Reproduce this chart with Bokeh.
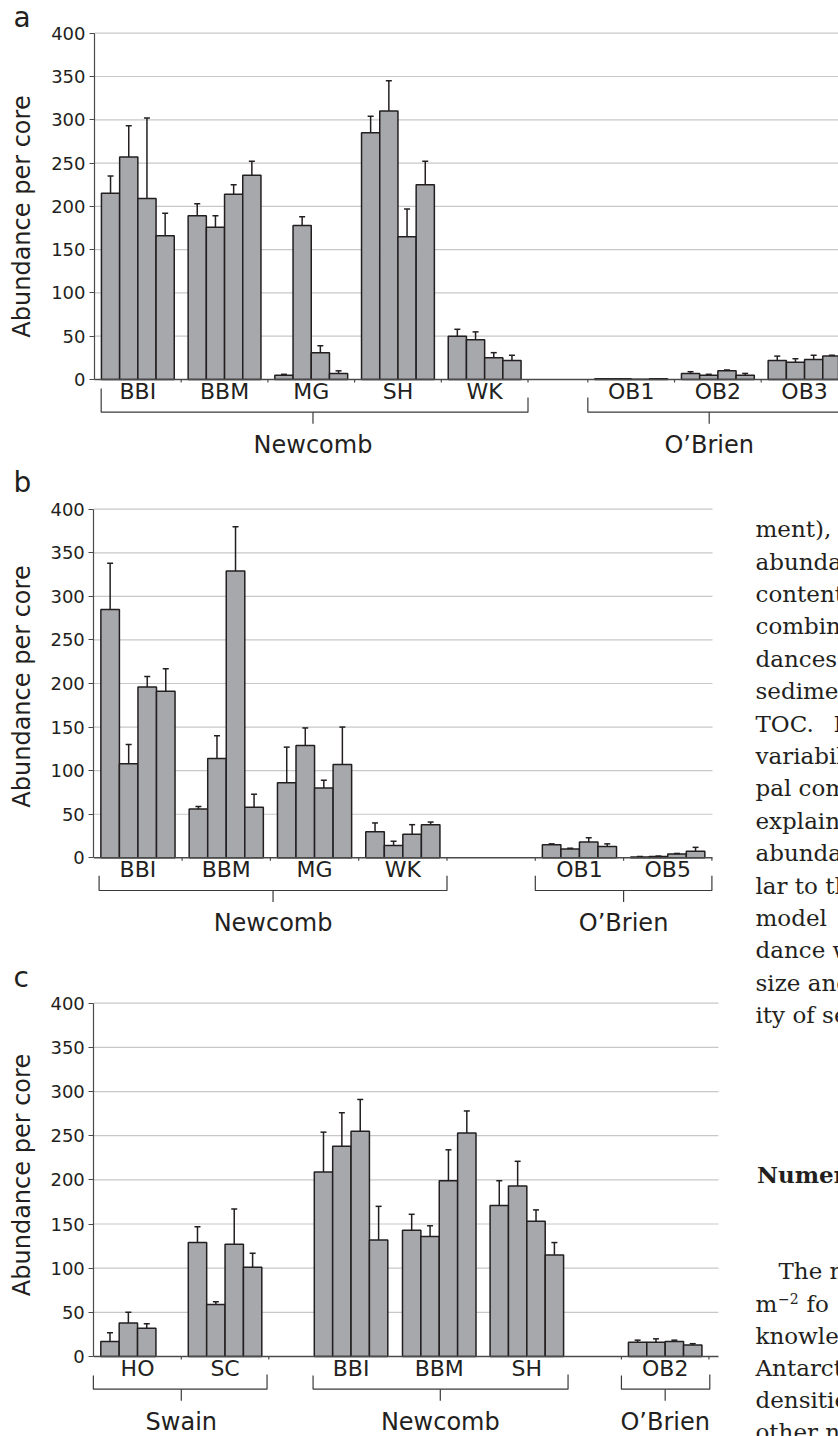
import math
from bokeh.plotting import figure
from bokeh.layouts import column
from bokeh.models import Range1d, FixedTicker
from bokeh.embed import file_html
from bokeh.resources import INLINE
from bokeh.core.properties import value

nan = float("nan")

# ---------------- data ----------------
y_ticks = [0, 50, 100, 150, 200, 250, 300, 350, 400]
y_label = "Abundance per core"

# panel a
a_sites = ["BBI", "BBM", "MG", "SH", "WK", "OB1", "OB2", "OB3"]
a_means = [[215, 257, 209, 166], [189, 176, 214, 236], [5, 178, 31, 7],
           [285, 310, 165, 225], [50, 46, 25, 22],
           [1, 1, 0.3, 1], [7, 5, 10, 5], [22, 20, 23, 27]]
a_se = [[20, 36, 93, 26], [14, 13, 11, 16], [1, 10, 8, 3],
        [19, 35, 32, 27], [8, 9, 6, 6],
        [0, 0, 0, 0], [2, 1, 1, 2], [5, 4, 5, 1]]
a_regions = ["Newcomb", "O\u2019Brien"]

# panel b
b_sites = ["BBI", "BBM", "MG", "WK", "OB1", "OB5"]
b_means = [[285, 108, 196, 191], [56, 114, 329, 58], [86, 129, 80, 107],
           [30, 14, 27, 38], [15, 10, 18, 13], [1, 1.5, 4.5, 7.5]]
b_se = [[53, 22, 12, 26], [3, 26, 51, 15], [41, 20, 9, 43],
        [10, 5, 11, 3], [1, 1, 5, 3], [0.5, 0.5, 0.5, 4.5]]
b_regions = ["Newcomb", "O\u2019Brien"]

# panel c
c_sites = ["HO", "SC", "BBI", "BBM", "SH", "OB2"]
c_means = [[17, 38, 32, nan], [129, 59, 127, 101], [209, 238, 255, 132],
           [143, 136, 199, 253], [171, 193, 153, 115], [16, 16, 17, 13]]
c_se = [[10, 12, 5, nan], [18, 3, 40, 16], [45, 38, 36, 38],
        [18, 12, 35, 25], [28, 28, 13, 14], [2.5, 4, 1.5, 1.5]]
c_regions = ["Swain", "Newcomb", "O\u2019Brien"]

# running text of the page beside panels b and c (cut off at the page edge)
side_b = ["ment),", "abunda", "content", "combin", "dances", "sedime", "TOC.",
          "variabil", "pal com", "explain", "abunda", "lar to th", "model"]
side_c = ["dance w", "size and", "ity of se"]
side_c2 = ["The n", "m", "knowle", "Antarct", "densitie", "other n"]

# ---------------- styles / layout ----------------
FONT = "DejaVu Sans"
SERIF = "DejaVu Serif"
INK = "#231f20"
BAR = "#a7a8ac"
GRID = "#c8c8c8"
AXIS = "#4a4a4a"
BW = 0.21
BASE_FIX = 0.38   # em, to put the alphabetic baseline where it is wanted


def build(letter, letter_base, label_mid, sites, means, ses, slots, xticks,
          brackets, regions, fig_top, fig_h, x0, W, axis_end_px, zero_px, top_px):
    scale = (zero_px - top_px) / 400.0

    def ypx(py):              # page pixel y -> data y
        return (zero_px - py) / scale

    def xpx(px):              # page pixel x -> data x
        return (px - x0) / W

    def below(d):
        return -d / scale

    def tb(py, size):         # baseline position for text of a given size
        return ypx(py - BASE_FIX * size)

    x_end = xpx(axis_end_px)
    p = figure(width=838, height=fig_h,
               x_range=Range1d(xpx(0), xpx(838)),
               y_range=Range1d(ypx(fig_top + fig_h), ypx(fig_top)),
               x_axis_location=None, toolbar_location=None,
               output_backend="svg", title=None,
               min_border_left=0, min_border_right=0,
               min_border_top=0, min_border_bottom=0,
               background_fill_color="white", border_fill_color="white",
               outline_line_color=None)
    p.grid.visible = False

    ax = p.yaxis[0]
    ax.fixed_location = 0
    ax.ticker = FixedTicker(ticks=y_ticks)
    ax.bounds = (0, 400)
    ax.axis_line_color = AXIS
    ax.axis_line_width = 1.2
    ax.major_tick_line_color = AXIS
    ax.major_tick_line_width = 1.2
    ax.major_tick_out = 5
    ax.major_tick_in = 0
    ax.minor_tick_out = 0
    ax.minor_tick_in = 0
    ax.major_label_standoff = 4
    ax.major_label_text_font = FONT
    ax.major_label_text_font_size = "18px"
    ax.major_label_text_color = INK

    # horizontal grid lines up to the end of the x axis
    gt = y_ticks[1:]
    p.segment(x0=[0] * len(gt), y0=gt, x1=[x_end] * len(gt), y1=gt,
              line_color=GRID, line_width=1.2)

    xs, tops, ex, ey0, ey1 = [], [], [], [], []
    for g, (ml, sl) in enumerate(zip(means, ses)):
        for i, (m, s) in enumerate(zip(ml, sl)):
            if isinstance(m, float) and math.isnan(m):
                continue
            xc = slots[g] + 0.5 + (i - 1.5) * BW
            xs.append(xc)
            tops.append(m)
            if s > 0:
                ex.append(xc)
                ey0.append(m)
                ey1.append(m + s)

    p.vbar(x=xs, top=tops, bottom=0, width=BW, fill_color=BAR,
           line_color=INK, line_width=1.5)
    p.segment(x0=ex, y0=ey0, x1=ex, y1=ey1, line_color=INK, line_width=1.5)
    p.scatter(x=ex, y=ey1, marker="dash", size=6, line_color=INK, line_width=1.5)

    # x baseline and small ticks at group boundaries
    p.line(x=[0, x_end], y=[0, 0], line_color=AXIS, line_width=1.5)
    p.segment(x0=xticks, y0=[0] * len(xticks), x1=xticks,
              y1=[below(3)] * len(xticks), line_color=AXIS, line_width=1.2)

    # site labels
    centers = [s + 0.5 for s in slots]
    p.text(x=centers, y=[tb(zero_px + 20.5, 22)] * len(centers), text=sites,
           text_align="center", text_baseline="alphabetic",
           text_font=value(FONT), text_font_size="22px", text_color=INK)

    # region brackets: (left, right, centre, depth of the left arm's top)
    yh, yt = below(32.7), below(44.3)
    bx, by, cx = [], [], []
    for (l, r, c, lt) in brackets:
        bx.append([l, l, r, r])
        by.append([below(lt), yh, yh, below(18)])
        bx.append([c, c])
        by.append([yh, yt])
        cx.append(c)
    p.multi_line(xs=bx, ys=by, line_color="#3a3a3a", line_width=1.2)
    p.text(x=cx, y=[tb(zero_px + 74.5, 24)] * len(cx), text=regions,
           text_align="center", text_baseline="alphabetic",
           text_font=value(FONT), text_font_size="24px", text_color=INK)

    # y axis title (rotated) and panel letter
    p.text(x=[xpx(21.7)], y=[ypx(label_mid)], text=[y_label], angle=math.pi / 2,
           text_align="center", text_baseline="middle",
           text_font=value(FONT), text_font_size="24px", text_color=INK)
    p.text(x=[xpx(13)], y=[tb(letter_base, 28)], text=[letter],
           text_align="left", text_baseline="alphabetic",
           text_font=value(FONT), text_font_size="28px", text_color=INK)
    return p, xpx, tb


# panel a
pa, xa, ta = build("a", 28, 216, a_sites, a_means, a_se,
                   [0, 1, 2, 3, 4, 5.69, 6.69, 7.69],
                   [1, 2, 3, 4, 5, 5.69, 6.69, 7.69],
                   [(0.077, 5.0, 2.52, 9), (5.69, 9.6, 7.09, 18)], a_regions,
                   fig_top=0, fig_h=463, x0=94, W=86.7, axis_end_px=850,
                   zero_px=379.0, top_px=32.7)

# panel b
pb, xb, tb_ = build("b", 493, 686, b_sites, b_means, b_se,
                    [0, 1, 2, 3, 5, 6],
                    [1, 2, 3, 4, 5, 6, 7],
                    [(0.06, 4.0, 2.03, 18), (5.0, 7.0, 6.0, 18)], b_regions,
                    fig_top=463, fig_h=474, x0=93.3, W=88.3, axis_end_px=712,
                    zero_px=857.3, top_px=508.7)

# panel c
pc, xc_, tc = build("c", 988, 1174.5, c_sites, c_means, c_se,
                    [0, 1, 2.44, 3.448, 4.449, 6.03],
                    [1, 2, 6.03, 7.03],
                    [(-0.005, 1.98, 1.0, 19), (2.506, 5.42, 3.96, 19),
                     (6.03, 7.04, 6.53, 19)],
                    c_regions,
                    fig_top=937, fig_h=499, x0=93.3, W=87.5, axis_end_px=718,
                    zero_px=1356.0, top_px=1002.7)


def side(p, xf, tf, xs, bases, texts, size=23, style="normal"):
    p.text(x=[xf(x) for x in xs], y=[tf(b, size) for b in bases], text=texts,
           text_align="left", text_baseline="alphabetic",
           text_font=value(SERIF), text_font_size=f"{size}px",
           text_font_style=style, text_color=INK)


TX = 755.0
side(pb, xb, tb_, [TX] * len(side_b), [537.4 + 32.4 * k for k in range(len(side_b))], side_b)
side(pb, xb, tb_, [833.0], [537.4 + 32.4 * 6], ["F"])
side(pc, xc_, tc, [TX] * len(side_c), [537.4 + 32.4 * (13 + k) for k in range(len(side_c))], side_c)
side(pc, xc_, tc, [756.5], [1182.4], ["Numer"], style="bold")
side(pc, xc_, tc, [778.0] + [TX] * (len(side_c2) - 1),
     [1279.7 + 32.2 * k for k in range(len(side_c2))], side_c2)
side(pc, xc_, tc, [777.5], [1279.7 + 32.2 - 9], ["\u22122"], size=14)
side(pc, xc_, tc, [806.0], [1279.7 + 32.2], ["fo"])

layout = column(pa, pb, pc, spacing=0)
open("out.html", "w").write(file_html(layout, INLINE))
